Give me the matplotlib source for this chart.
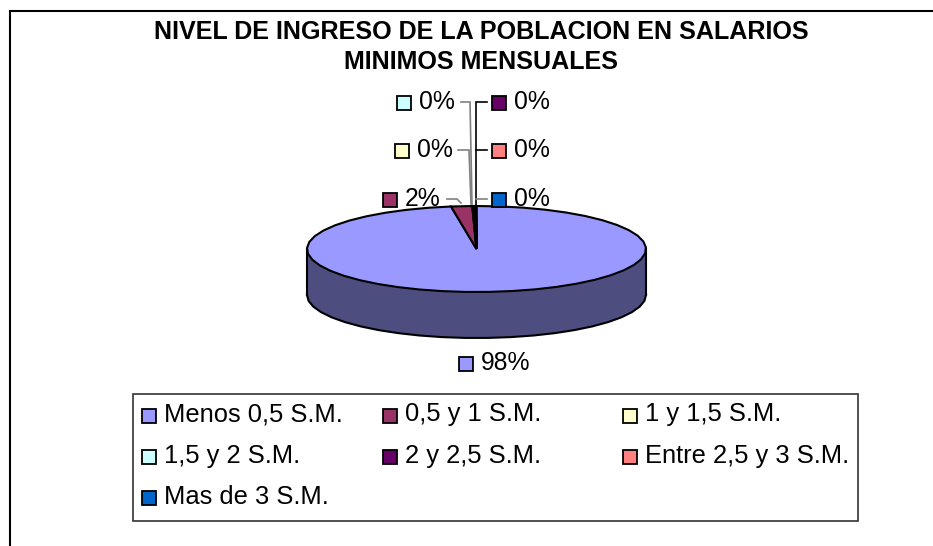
import matplotlib
matplotlib.use('Agg')
import matplotlib.pyplot as plt
import numpy as np
from matplotlib.patches import Rectangle
from matplotlib.path import Path

plt.rcParams['font.family'] = ['Liberation Sans', 'DejaVu Sans']

title = 'NIVEL DE INGRESO DE LA POBLACION EN SALARIOS\nMINIMOS MENSUALES'
categories = ['Menos 0,5 S.M.', '0,5 y 1 S.M.', '1 y 1,5 S.M.', '1,5 y 2 S.M.',
              '2 y 2,5 S.M.', 'Entre 2,5 y 3 S.M.', 'Mas de 3 S.M.']
values = [97.6, 2.0, 0.1, 0.1, 0.1, 0.05, 0.05]
pct_labels = ['98%', '2%', '0%', '0%', '0%', '0%', '0%']
colors = ['#9999FF', '#993366', '#FFFFCC', '#CCFFFF', '#660066', '#FF8080', '#0066CC']
side_colors = ['#4D4D80', '#4D1A33', '#808066', '#668080', '#330033', '#804040', '#003366']

W, H = 933, 546
fig = plt.figure(figsize=(W / 100, H / 100), dpi=100)


def coarsen(w, nseg=46):
    # the original outline is a rough polygon, not a smooth arc
    n = max(int(nseg * (w.theta2 - w.theta1) / 360), 1)
    t = np.radians(np.linspace(w.theta1, w.theta2, n + 1))
    cx, cy = w.center
    pts = np.column_stack([cx + w.r * np.cos(t), cy + w.r * np.sin(t)])
    w._path = Path(np.vstack([[cx, cy], pts, [cx, cy]]), closed=True)


# pie lives in its own axes, stretched so the circle becomes the flat ellipse
x0, x1, y0, y1 = 307, 646, 206, 292
axp = fig.add_axes([x0 / W, 1 - y1 / H, (x1 - x0) / W, (y1 - y0) / H])
axp.patch.set_alpha(0)
depth = 46 / ((y1 - y0) / 2)
side, _ = axp.pie(values, colors=side_colors, startangle=90, counterclock=False,
                  center=(0, -depth), wedgeprops=dict(linewidth=0))
for w in side:
    coarsen(w)
axp.add_patch(Rectangle((-1, -depth), 2, depth, facecolor=side_colors[0], edgecolor='none', zorder=5))
t = np.radians(np.linspace(180, 360, 24))
axp.plot(np.cos(t), np.sin(t) - depth, color='black', lw=1.5, zorder=6, clip_on=False)
axp.plot([-1, -1], [-depth, 0], color='black', lw=1.5, zorder=6, clip_on=False)
axp.plot([1, 1], [-depth, 0], color='black', lw=1.5, zorder=6, clip_on=False)
wedges, _ = axp.pie(values, colors=colors, startangle=90, counterclock=False,
                    wedgeprops=dict(edgecolor='black', linewidth=1.5))
for w in wedges:
    coarsen(w)
    w.set_zorder(7)
axp.set_aspect('auto')
axp.set_xlim(-1, 1)
axp.set_ylim(-1, 1)
for p in axp.patches:
    p.set_clip_on(False)

# everything else in pixel coordinates on top
ax = fig.add_axes([0, 0, 1, 1], zorder=3)
ax.set_xlim(0, W)
ax.set_ylim(H, 0)
ax.axis('off')
ax.patch.set_alpha(0)

ax.plot([9.5, 9.5, W], [H, 10.5, 10.5], color='black', lw=1.5, solid_joinstyle='miter')
ax.text(481, 47, title, ha='center', va='center', fontsize=18.05, fontweight='bold', linespacing=1.33)

# leader lines: (color, points)
leaders = [
    ('#808080', [(461, 102), (470, 102), (472, 204)]),
    ('#808080', [(458, 150), (469, 150), (471, 204)]),
    ('#808080', [(447, 199), (457, 199), (461, 203)]),
    ('black', [(487, 102), (476, 102), (476, 205)]),
    ('black', [(487, 150), (476, 150)]),
    ('#808080', [(487, 199), (476, 199)]),
]
for c, pts in leaders:
    ax.plot([p[0] for p in pts], [p[1] for p in pts], color=c, lw=1.2, solid_joinstyle='miter')

# data labels: swatch left edge, centre y, by slice index
label_pos = {0: (459, 363.5), 1: (383, 200), 2: (395, 151), 3: (397, 103),
             4: (492, 103), 5: (492, 151), 6: (492, 200)}
for i, (lx, ly) in label_pos.items():
    ax.add_patch(Rectangle((lx, ly - 7), 14, 14, facecolor=colors[i], edgecolor='black', lw=1.3))
    ax.text(lx + 22, ly - 1, pct_labels[i], ha='left', va='center', fontsize=17.8)

# legend box
ax.add_patch(Rectangle((132.5, 393.5), 725, 127, facecolor='white', edgecolor='#333333', lw=1.2, zorder=1))
col_x = [142, 383, 623]
row_y = [415.5, 456.5, 497.5]
for i, name in enumerate(categories):
    lx = col_x[i % 3]
    ly = row_y[i // 3]
    ax.add_patch(Rectangle((lx, ly - 7), 14, 14, facecolor=colors[i], edgecolor='black', lw=1.3, zorder=2))
    ax.text(lx + 22, ly - 1, name, ha='left', va='center', fontsize=18.4, zorder=2)

fig.savefig('out.png', dpi=100)
